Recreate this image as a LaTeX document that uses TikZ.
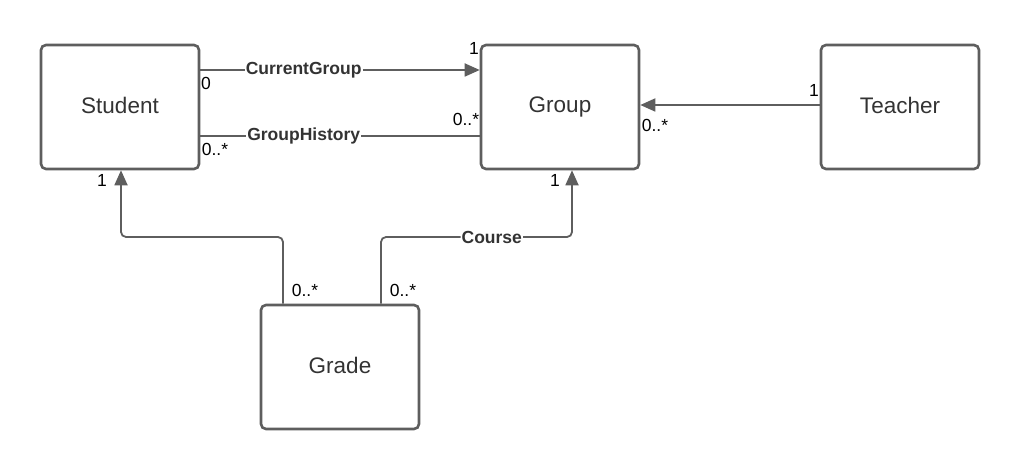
\documentclass[tikz,border=0pt]{standalone}
\usepackage{fontspec}
\setmainfont{Liberation Sans}
\usetikzlibrary{arrows.meta}
\definecolor{ln}{HTML}{5E5E5E}
\definecolor{tx}{HTML}{333333}
\tikzset{
  cls/.style={draw=ln, line width=2.6pt, rounded corners=5pt, minimum width=158pt, minimum height=124pt, inner sep=0pt, text=tx, font=\fontsize{22.5}{26}\selectfont, fill=white},
  conn/.style={draw=ln, line width=1.8pt},
  arr/.style={-{Triangle[length=15pt,width=13pt]}},
  lab/.style={fill=white, inner sep=1pt, text=tx, font=\bfseries\fontsize{17.5}{20}\selectfont},
  mult/.style={inner sep=0pt, text=black, font=\fontsize{17.5}{20}\selectfont}
}
\begin{document}
\begin{tikzpicture}[x=1pt,y=-1pt]
\useasboundingbox (0,0) rectangle (1020,470);
\node[cls] (student) at (120,107) {\raisebox{3pt}{Student}};
\node[cls] (group) at (560,107) {\raisebox{3pt}{Group}};
\node[cls] (teacher) at (900,107) {\raisebox{3pt}{Teacher}};
\node[cls] (grade) at (340,367) {\raisebox{3pt}{Grade}};
% CurrentGroup
\coordinate (cg1) at (student.east |- 0,70);
\coordinate (cg2) at (group.west |- 0,70);
\draw[conn,arr] (cg1) -- node[lab, pos=0.37] {CurrentGroup} (cg2);
% GroupHistory
\coordinate (gh1) at (student.east |- 0,136);
\coordinate (gh2) at (group.west |- 0,136);
\draw[conn] (gh1) -- node[lab, pos=0.37] {GroupHistory} (gh2);
% Teacher
\coordinate (t1) at (teacher.west |- 0,105);
\coordinate (t2) at (group.east |- 0,105);
\draw[conn,arr] (t1) -- (t2);
% Grade -> Student
\coordinate (gs1) at (grade.north -| 283,0);
\coordinate (gs2) at (student.south -| 121,0);
\draw[conn,arr,rounded corners=5pt] (gs1) -- (283,237) -- (121,237) -- (gs2);
% Grade -> Group
\coordinate (gg1) at (grade.north -| 381,0);
\coordinate (gg2) at (group.south -| 572,0);
\draw[conn,arr,rounded corners=5pt] (gg1) -- (381,237) -- node[lab, pos=0.58] {Course} (572,237) -- (gg2);
% multiplicities
\node[mult] at (206,83) {0};
\node[mult] at (474,48) {1};
\node[mult] at (215,149) {0..*};
\node[mult] at (466,119) {0..*};
\node[mult] at (814,90) {1};
\node[mult] at (655,125) {0..*};
\node[mult] at (102,180) {1};
\node[mult] at (555,180) {1};
\node[mult] at (305,290) {0..*};
\node[mult] at (403,290) {0..*};
\end{tikzpicture}
\end{document}
